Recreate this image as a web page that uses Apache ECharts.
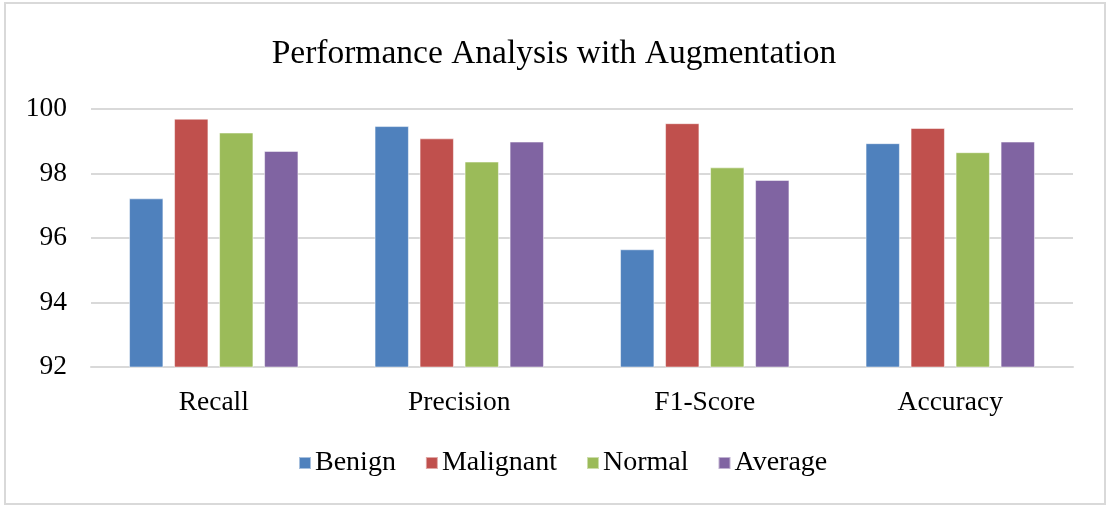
<!DOCTYPE html>
<html>
<head>
<meta charset="utf-8">
<script src="https://cdn.jsdelivr.net/npm/echarts@6/dist/echarts.min.js"></script>
<style>
  html, body { margin: 0; padding: 0; background: #fff; }
  #chart { position: absolute; left: 0; top: 0; width: 1108px; height: 505px; }
  #frame { position: absolute; left: 4px; top: 2px; width: 1098px; height: 499px;
           border: 2px solid #d9d9d9; pointer-events: none; }
</style>
</head>
<body>
<div id="chart"></div>
<div id="frame"></div>
<script>
// metrics on the x axis
const categories = ["Recall", "Precision", "F1-Score", "Accuracy"];

// values (%)
const benign    = [97.23, 99.47, 95.65, 98.94];
const malignant = [99.70, 99.09, 99.56, 99.41];
const normal    = [99.27, 98.37, 98.19, 98.66];
const average   = [98.70, 98.99, 97.80, 98.99];

const seriesNames = ["Benign", "Malignant", "Normal", "Average"];
const seriesColors = ["#4f81bd", "#c0504d", "#9bbb59", "#8064a2"];
const yTicks = { min: 92, max: 100, interval: 2 };

const fontFamily = "'Liberation Serif', 'Times New Roman', serif";

const chart = echarts.init(document.getElementById("chart"));

const makeBar = (name, data, i) => ({
  name: name,
  type: "bar",
  data: data,
  barGap: "31%",
  barCategoryGap: "31%",
  itemStyle: { color: seriesColors[i], borderColor: "rgba(255,255,255,0.5)", borderWidth: 1 },
});

const option = {
  animation: false,
  backgroundColor: "#fff",
  title: {
    text: "Performance Analysis with Augmentation",
    left: "center",
    top: 32,
    textStyle: { fontFamily: fontFamily, fontSize: 33.5, fontWeight: "normal", color: "#000" },
  },
  legend: {
    data: seriesNames,
    bottom: 23,
    left: 293,
    itemWidth: 12,
    itemHeight: 12,
    itemGap: 29,
    icon: "rect",
    textStyle: { fontFamily: fontFamily, fontSize: 28, color: "#000", padding: [0, 0, 0, -1] },
  },
  grid: { left: 91, right: 35, top: 109, bottom: 138, containLabel: false },
  xAxis: {
    type: "category",
    data: categories,
    axisLine: { show: true, lineStyle: { color: "#d9d9d9", width: 2 } },
    axisTick: { show: false },
    axisLabel: { fontFamily: fontFamily, fontSize: 27.5, color: "#000", margin: 22 },
  },
  yAxis: {
    type: "value",
    min: yTicks.min,
    max: yTicks.max,
    interval: yTicks.interval,
    axisLine: { show: false },
    axisTick: { show: false },
    axisLabel: { fontFamily: fontFamily, fontSize: 27.5, color: "#000", margin: 24 },
    splitLine: { lineStyle: { color: "#d9d9d9", width: 2 } },
  },
  series: [
    makeBar(seriesNames[0], benign, 0),
    makeBar(seriesNames[1], malignant, 1),
    makeBar(seriesNames[2], normal, 2),
    makeBar(seriesNames[3], average, 3),
  ],
};

chart.setOption(option);
</script>
</body>
</html>
